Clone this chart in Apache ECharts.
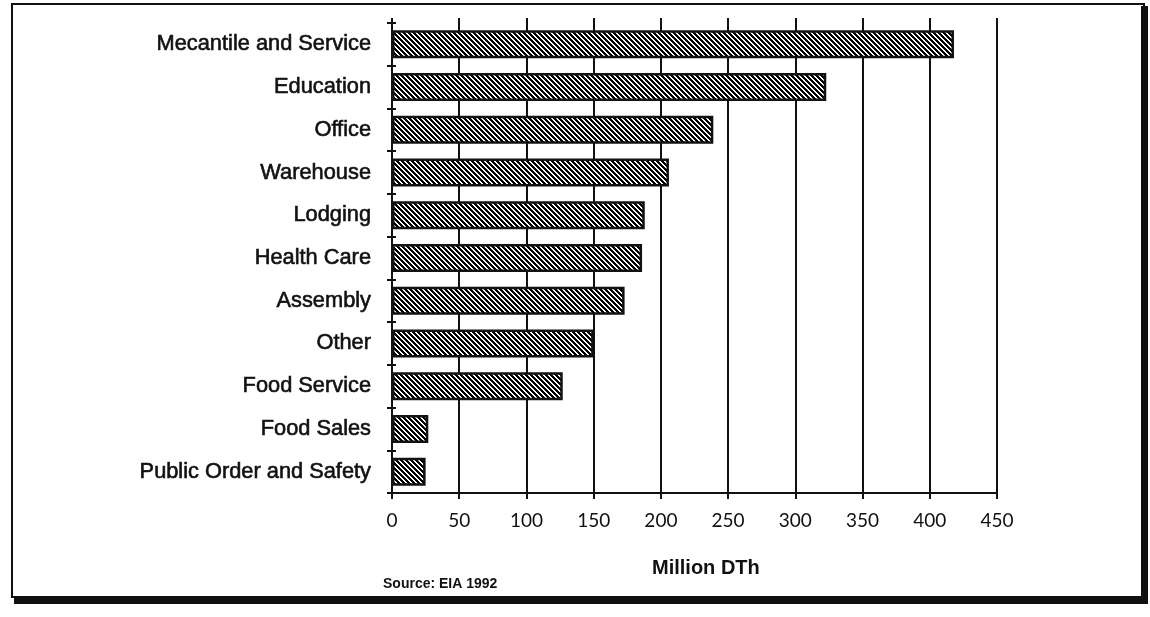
<!DOCTYPE html>
<html>
<head>
<meta charset="utf-8">
<style>
  html, body { margin: 0; padding: 0; background: #fff; }
  #chart { width: 1150px; height: 617px; }
</style>
<script src="https://cdn.jsdelivr.net/npm/echarts@6/dist/echarts.min.js"></script>
</head>
<body>
<div id="chart"></div>
<script>
// Commercial natural gas consumption by building type
const categories = [
  'Mecantile and Service', 'Education', 'Office', 'Warehouse', 'Lodging',
  'Health Care', 'Assembly', 'Other', 'Food Service', 'Food Sales',
  'Public Order and Safety'
];
const consumption = [418, 323, 239, 206, 188, 186, 173, 150, 127, 27, 25];
const axisMin = 0;
const axisMax = 450;
const axisStep = 50;
const axisTitle = 'Million DTh';
const sourceNote = 'Source: EIA 1992';

// Diagonal hatch tile for the bars
function hatchTile() {
  const size = 5;
  const c = document.createElement('canvas');
  c.width = size; c.height = size;
  const ctx = c.getContext('2d');
  const img = ctx.createImageData(size, size);
  for (let y = 0; y < size; y++) {
    for (let x = 0; x < size; x++) {
      const k = ((x - y) % size + size) % size;
      const v = (k <= 2) ? 0 : 255;
      const i = (y * size + x) * 4;
      img.data[i] = v; img.data[i + 1] = v; img.data[i + 2] = v; img.data[i + 3] = 255;
    }
  }
  ctx.putImageData(img, 0, 0);
  return c;
}

const chart = echarts.init(document.getElementById('chart'), null, { renderer: 'canvas' });
const ink = '#111';
const labelFont = 'Liberation Sans, Arial, sans-serif';

chart.setOption({
  backgroundColor: '#fff',
  animation: false,
  grid: { left: 392, right: 153, top: 23, bottom: 124 },
  xAxis: [
    {
      type: 'value', min: axisMin, max: axisMax, interval: axisStep,
      position: 'bottom',
      axisLine: { show: true, lineStyle: { color: ink, width: 2 } },
      axisTick: { show: true, length: 6, lineStyle: { color: ink, width: 2 } },
      axisLabel: { color: ink, fontSize: 19, fontFamily: 'Lato, sans-serif', margin: 18 },
      splitLine: { show: true, lineStyle: { color: ink, width: 2 } }
    },
    {
      type: 'value', min: axisMin, max: axisMax, interval: axisStep,
      position: 'top',
      axisLine: { show: false },
      axisTick: { show: true, length: 5, lineStyle: { color: ink, width: 2 } },
      axisLabel: { show: false },
      splitLine: { show: false }
    }
  ],
  yAxis: [
    {
      type: 'category', data: categories, inverse: true,
      axisLine: { show: true, lineStyle: { color: ink, width: 2 } },
      axisTick: { show: true, length: 5, lineStyle: { color: ink, width: 2 } },
      axisLabel: {
        color: ink, fontSize: 21.8, fontFamily: labelFont, margin: 21,
        textBorderColor: ink, textBorderWidth: 0.6
      },
      splitLine: { show: false }
    },
    {
      type: 'category', data: categories, inverse: true, position: 'left',
      axisLine: { show: false },
      axisTick: { show: true, inside: true, length: 4, lineStyle: { color: ink, width: 2 } },
      axisLabel: { show: false },
      splitLine: { show: false }
    }
  ],
  series: [
    {
      type: 'bar',
      data: consumption,
      barWidth: 28,
      itemStyle: {
        color: { image: hatchTile(), repeat: 'repeat' },
        borderColor: ink,
        borderWidth: 2.5
      },
      z: 3
    }
  ],
  graphic: [
    // page frame with drop shadow
    { type: 'rect', shape: { x: 12, y: 4, width: 1132, height: 593 },
      style: { fill: 'none', stroke: ink, lineWidth: 2 }, silent: true },
    { type: 'rect', shape: { x: 1141, y: 6, width: 7, height: 598 },
      style: { fill: ink }, silent: true },
    { type: 'rect', shape: { x: 14, y: 596, width: 1134, height: 8 },
      style: { fill: ink }, silent: true },
    { type: 'text', left: 652, top: 558,
      style: { text: axisTitle, fill: ink, font: 'bold 20px ' + labelFont } },
    { type: 'text', left: 383, top: 577,
      style: { text: sourceNote, fill: ink, font: 'bold 14px ' + labelFont } }
  ]
});
</script>
</body>
</html>
